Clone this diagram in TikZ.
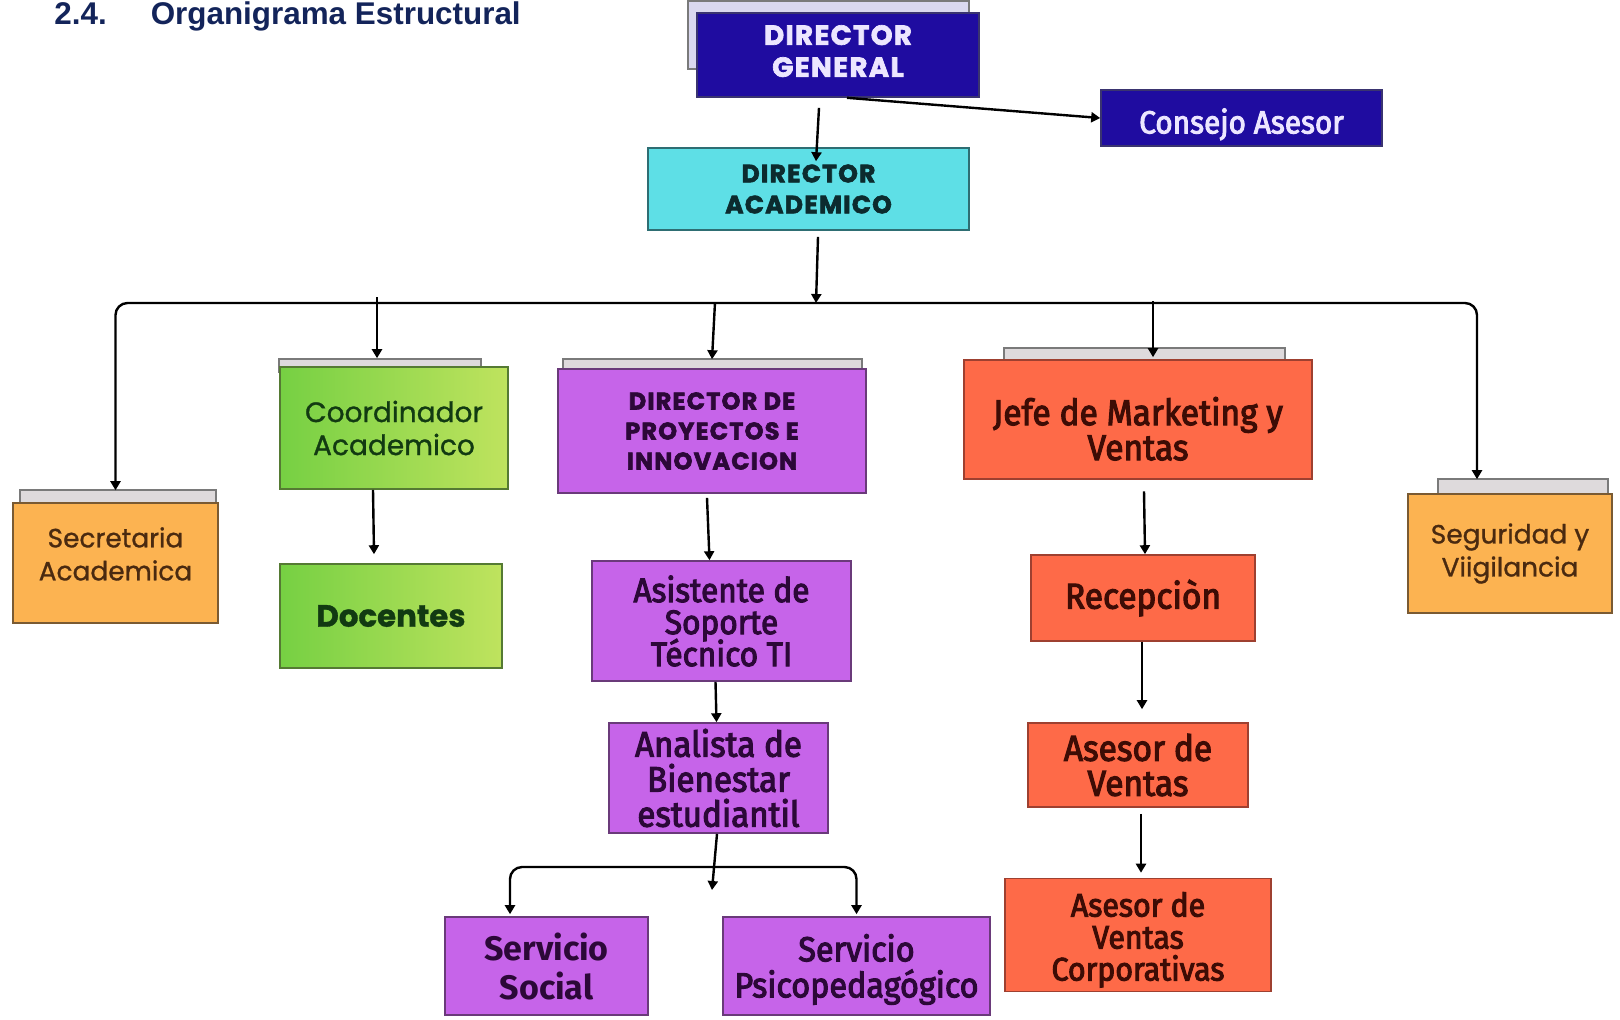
\documentclass[tikz,border=0pt]{standalone}
\usepackage{fontspec}
\setmainfont{Liberation Sans}
\newfontfamily\headfont{Poppins}[LetterSpace=5,FakeBold=2.5]
\newfontfamily\roundfont{Poppins}[FakeBold=1]
\newfontfamily\firafont{Fira Sans}
\newfontfamily\narrowfont{Fira Sans}[FakeStretch=0.93,FakeBold=3]
\newcommand\tightlines{\lineskiplimit=-20pt\relax}
\usetikzlibrary{arrows.meta,backgrounds}

\definecolor{titleblue}{HTML}{13245A}
\definecolor{dgblue}{HTML}{1F0CA0}
\definecolor{dgline}{HTML}{3A3470}
\definecolor{dgtext}{HTML}{ECE6FF}
\definecolor{dacyan}{HTML}{5EDFE6}
\definecolor{daline}{HTML}{2E6E73}
\definecolor{datext}{HTML}{0C2B2E}
\definecolor{orfill}{HTML}{FCB351}
\definecolor{orline}{HTML}{7A5A32}
\definecolor{ortext}{HTML}{4A2A10}
\definecolor{grleft}{HTML}{76D043}
\definecolor{grright}{HTML}{BFE35E}
\definecolor{grline}{HTML}{557A33}
\definecolor{grtext}{HTML}{123A12}
\definecolor{pufill}{HTML}{C664E9}
\definecolor{puline}{HTML}{6A3A7A}
\definecolor{putext}{HTML}{2C0838}
\definecolor{rdfill}{HTML}{FE6A48}
\definecolor{rdline}{HTML}{9E4030}
\definecolor{rdtext}{HTML}{3D0C05}
\definecolor{tabfill}{HTML}{DEDADC}
\definecolor{tabline}{HTML}{7A7A7A}
\definecolor{shadowfill}{HTML}{DAD8EF}

\begin{document}
\begin{tikzpicture}[x=0.5pt,y=-0.5pt,>={Triangle[width=5pt,length=4.5pt]}]
	\tikzset{box/.style = {draw, line width=0.8pt, align=center, inner sep=2pt},
		dgbox/.style = {box, fill=dgblue, draw=dgline, text=dgtext,
			font=\headfont\bfseries\fontsize{13.8}{16}\selectfont},
		dabox/.style = {box, fill=dacyan, draw=daline, text=datext,
			font=\headfont\bfseries\fontsize{12.5}{15.5}\selectfont},
		orbox/.style = {box, fill=orfill, draw=orline, text=ortext,
			font=\roundfont\fontsize{13.2}{16.5}\selectfont},
		grbox/.style = {box, left color=grleft, right color=grright, draw=grline, text=grtext,
			font=\roundfont\fontsize{14}{16.5}\selectfont},
		pubox/.style = {box, fill=pufill, draw=puline, text=putext,
			font=\narrowfont\fontsize{17}{16}\selectfont\tightlines},
		rdbox/.style = {box, fill=rdfill, draw=rdline, text=rdtext,
			font=\narrowfont\fontsize{18}{17.5}\selectfont\tightlines},
		tabbox/.style = {draw=tabline, fill=tabfill, line width=0.8pt},
		conn/.style = {line width=1.2pt, ->},
		busline/.style = {line width=1.2pt, <->, rounded corners=6pt}}
	\useasboundingbox (0,0) rectangle (1620,1019);

	\node[anchor=base west, inner sep=0pt, text=titleblue,
		font=\bfseries\fontsize{15.7}{18}\selectfont] (title) at (54,24)
		{2.4.\hspace{22pt}Organigrama Estructural};

	% top
	\node[dgbox, text depth=4pt, minimum width=141pt, minimum height=42pt] (dg) at (838,55) {DIRECTOR\\GENERAL};
	\node[dgbox, font=\narrowfont\fontsize{16}{18}\selectfont, text height=18.8pt,
		minimum width=140.5pt, minimum height=28pt] (cons) at (1241.5,118) {Consejo Asesor};
	\node[dabox, minimum width=160.5pt, minimum height=41pt] (da) at (808.5,189) {DIRECTOR\\ACADEMICO};

	% second level
	\node[orbox, text depth=9.2pt, minimum width=102.5pt, minimum height=60pt] (sec) at (115.5,563) {Secretaria\\Academica};
	\node[grbox, minimum width=114pt, minimum height=61pt] (coord) at (394,428) {Coordinador\\Academico};
	\node[grbox, font=\roundfont\bfseries\fontsize{15.4}{18}\selectfont,
		minimum width=111pt, minimum height=52pt] (doc) at (391,616) {Docentes};
	\node[pubox, font=\headfont\bfseries\fontsize{12}{15}\selectfont,
		minimum width=154pt, minimum height=62pt] (dpi) at (712,431) {DIRECTOR DE\\PROYECTOS E\\INNOVACION};
	\node[pubox, minimum width=129.5pt, minimum height=60pt] (asis) at (721.5,621) {Asistente de\\Soporte\\Técnico TI};
	\node[pubox, font=\narrowfont\fontsize{17.8}{17.5}\selectfont\tightlines,
		minimum width=109.5pt, minimum height=55pt] (anal) at (718.5,778) {Analista de\\Bienestar\\estudiantil};
	\node[pubox, font=\firafont\bfseries\fontsize{17}{19.5}\selectfont,
		minimum width=101.5pt, minimum height=49pt] (ssoc) at (546.5,966) {Servicio\\Social};
	\node[pubox, font=\narrowfont\fontsize{17.4}{18}\selectfont\tightlines, text height=35pt,
		minimum width=133.5pt, minimum height=49pt] (spsi) at (856.5,966) {Servicio\\Psicopedagógico};
	\node[rdbox, text height=40.8pt, minimum width=174pt, minimum height=59.5pt] (jefe) at (1138,419.5) {Jefe de Marketing y\\Ventas};
	\node[rdbox, minimum width=112pt, minimum height=43pt] (rec) at (1143,598) {Recepciòn};
	\node[rdbox, minimum width=110pt, minimum height=42pt] (av) at (1138,765) {Asesor de\\Ventas};
	\node[rdbox, font=\narrowfont\fontsize{16.3}{16}\selectfont\tightlines, text height=49pt,
		minimum width=133pt, minimum height=52pt] (avc) at (1138,935) {Asesor de\\Ventas\\Corporativas};
	\node[orbox, minimum width=102pt, minimum height=59.5pt] (seg) at (1510,553.5) {Seguridad y\\Viigilancia};

	% page and tabs behind the boxes
	\begin{scope}[on background layer]
		\fill[white] (0,0) rectangle (1620,1019);
		\draw[tabbox, fill=shadowfill] ([xshift=-4pt,yshift=5.5pt]dg.north west) rectangle ([xshift=-5.5pt,yshift=14.5pt]dg.south east);
		\draw[tabbox] ([xshift=4pt,yshift=6pt]sec.north west) rectangle ([xshift=-1.5pt,yshift=-3pt]sec.north east);
		\draw[tabbox] ([yshift=3.5pt]coord.north west) rectangle ([xshift=-14pt,yshift=-3pt]coord.north east);
		\draw[tabbox] ([xshift=3pt,yshift=4.5pt]dpi.north west) rectangle ([xshift=-2.5pt,yshift=-3pt]dpi.north east);
		\draw[tabbox] ([xshift=20.5pt,yshift=5.5pt]jefe.north west) rectangle ([xshift=-14pt,yshift=-3pt]jefe.north east);
		\draw[tabbox] ([xshift=15.5pt,yshift=7pt]seg.north west) rectangle ([xshift=-2.5pt,yshift=-3pt]seg.north east);
	\end{scope}

	% connectors
	\coordinate (bus) at (816,303);
	\coordinate (sbus) at (712,867);
	\coordinate (aend) at (712,890);
	\draw[conn] ([xshift=-9.5pt,yshift=-5pt]dg.south) -- ([xshift=3.75pt,yshift=-7pt]da.north);
	\draw[conn] ([xshift=4.5pt]dg.south) -- (cons.west);
	\draw[conn] ([xshift=4.75pt,yshift=-3pt]da.south) -- (bus);
	\draw[busline] ([yshift=6pt]sec.north) |- (bus) -| ([xshift=-16.5pt,yshift=7pt]seg.north);
	\draw[conn] ([xshift=-8.5pt,yshift=34.5pt]coord.north) -- ([xshift=-8.5pt,yshift=4pt]coord.north);
	\draw[conn] ([xshift=1.5pt,yshift=33pt]dpi.north) -- ([yshift=4.5pt]dpi.north);
	\draw[conn] ([xshift=7.5pt,yshift=29pt]jefe.north) -- ([xshift=7.5pt,yshift=1pt]jefe.north);
	\draw[conn] ([xshift=-10.5pt]coord.south) -- ([xshift=-8.5pt,yshift=4.5pt]doc.north);
	\draw[conn] ([xshift=-2.5pt,yshift=-2pt]dpi.south) -- ([xshift=-6pt]asis.north);
	\draw[conn] ([xshift=-3pt]asis.south) -- ([xshift=-1pt]anal.north);
	\draw[conn] ([xshift=-0.75pt]anal.south) -- (aend);
	\draw[busline] ([xshift=-18.25pt,yshift=1pt]ssoc.north) |- (sbus) -| ([yshift=1pt]spsi.north);
	\draw[conn] ([xshift=3pt,yshift=-5.75pt]jefe.south) -- ([xshift=1pt]rec.north);
	\draw[conn] ([xshift=-0.5pt]rec.south) -- ([xshift=2pt,yshift=6.5pt]av.north);
	\draw[conn] ([xshift=1.5pt,yshift=-3pt]av.south) -- ([xshift=1.5pt,yshift=2.5pt]avc.north);
\end{tikzpicture}
\end{document}
